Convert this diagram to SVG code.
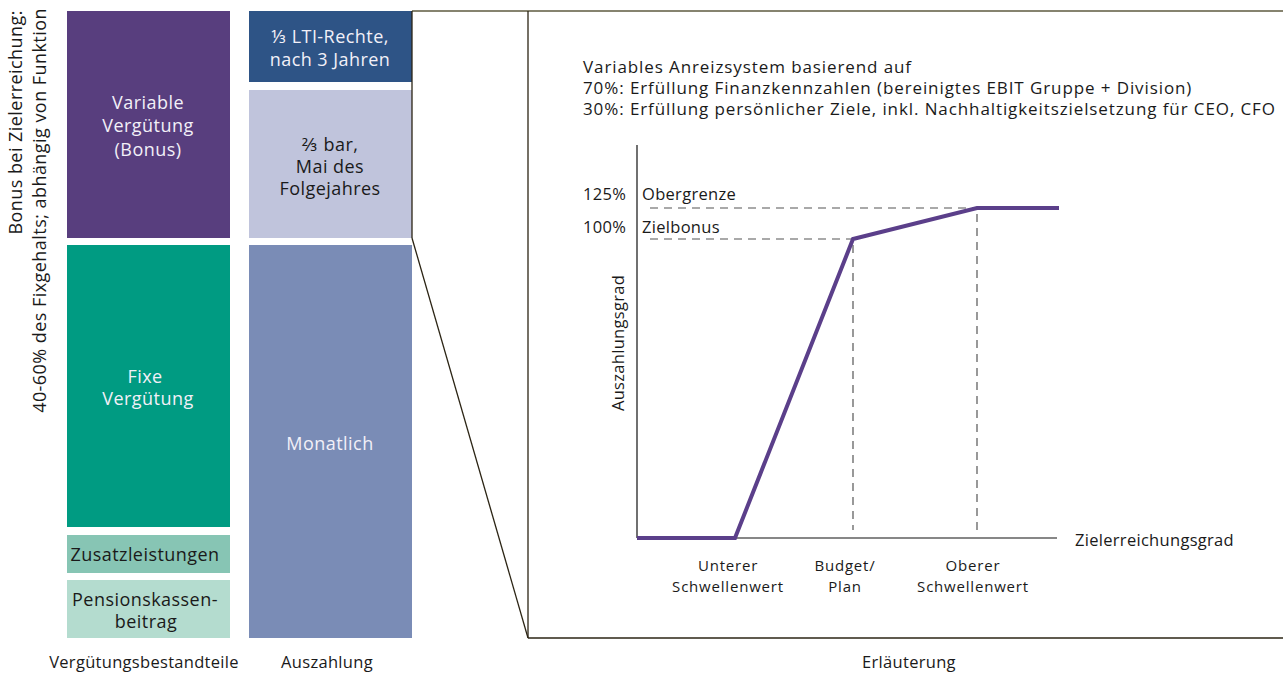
<svg xmlns="http://www.w3.org/2000/svg" width="1283" height="673" viewBox="0 0 1283 673">
  <style>
    text { font-family: "Open Sans", "Noto Sans", "Liberation Sans", sans-serif; font-size: 18px; letter-spacing: 0.45px; fill: #1a1a1a; }
    .c { text-anchor: middle; }
    .w { fill: #f2f0f8; }
    .head { font-size: 17px; letter-spacing: 0.9px; }
    .lbl { font-size: 16.5px; letter-spacing: 0.3px; }
    .tick { font-size: 15px; letter-spacing: 0.8px; text-anchor: middle; }
    .frame { stroke: #2b2414; stroke-width: 1.3; fill: none; }
    .axis { stroke: #111; stroke-width: 1.2; fill: none; }
    .dash { stroke: #555; stroke-width: 1.2; stroke-dasharray: 8 6; fill: none; }
    .curve { stroke: #5b3f8a; stroke-width: 4; fill: none; stroke-linejoin: miter; }
  </style>

  <!-- left side caption -->
  <g id="side-caption">
    <text transform="translate(22,10) rotate(-90)" text-anchor="end" font-size="18.5" letter-spacing="0.3">Bonus bei Zielerreichung:</text>
    <text transform="translate(46,8) rotate(-90)" text-anchor="end" font-size="18.5" letter-spacing="0.7">40-60% des Fixgehalts; abhängig von Funktion</text>
  </g>

  <!-- components column -->
  <g id="variable">
    <rect x="67" y="11" width="163" height="227" fill="#583e7e"/>
    <text class="c w" x="148" y="109">Variable</text>
    <text class="c w" x="148" y="132">Vergütung</text>
    <text class="c w" x="148" y="156">(Bonus)</text>
  </g>
  <g id="fixe">
    <rect x="67" y="245" width="163" height="282" fill="#009b82"/>
    <text class="c w" x="145" y="383">Fixe</text>
    <text class="c w" x="148" y="405">Vergütung</text>
  </g>
  <g id="zusatz">
    <rect x="67" y="535" width="163" height="38" fill="#87c5b4"/>
    <text class="c" x="145" y="561">Zusatzleistungen</text>
  </g>
  <g id="pension">
    <rect x="67" y="580" width="163" height="58" fill="#b4dccf"/>
    <text class="c" x="145" y="606">Pensionskassen-</text>
    <text class="c" x="146" y="628">beitrag</text>
  </g>

  <!-- payout column -->
  <g id="lti">
    <rect x="249" y="11" width="163" height="71" fill="#2e5486"/>
    <text class="c w" x="330" y="43">⅓ LTI-Rechte,</text>
    <text class="c w" x="330" y="66">nach 3 Jahren</text>
  </g>
  <g id="bar">
    <rect x="249" y="90" width="163" height="148" fill="#c0c4dc"/>
    <text class="c" x="330" y="151">⅔ bar,</text>
    <text class="c" x="330" y="173">Mai des</text>
    <text class="c" x="330" y="195">Folgejahres</text>
  </g>
  <g id="monatlich">
    <rect x="249" y="245" width="163" height="393" fill="#7a8cb6"/>
    <text class="c w" x="330" y="450" font-size="19.5">Monatlich</text>
  </g>

  <!-- callout frame linking the bonus to its explanation -->
  <g id="connectors">
    <line x1="412" y1="11" x2="1283" y2="11" stroke="#86836f" stroke-width="2"/>
    <line class="frame" x1="412" y1="11" x2="412" y2="238"/>
    <line class="frame" x1="412" y1="238" x2="528" y2="638"/>
    <line class="frame" x1="528" y1="11" x2="528" y2="638"/>
    <line class="frame" x1="528" y1="638" x2="1283" y2="638"/>
  </g>

  <!-- explanation -->
  <g id="explanation">
    <text class="head" x="583" y="73">Variables Anreizsystem basierend auf</text>
    <text class="head" x="583" y="94">70%: Erfüllung Finanzkennzahlen (bereinigtes EBIT Gruppe + Division)</text>
    <text class="head" x="583" y="115">30%: Erfüllung persönlicher Ziele, inkl. Nachhaltigkeitszielsetzung für CEO, CFO</text>
  </g>

  <g id="chart">
    <line class="dash" x1="650" y1="208" x2="977" y2="208"/>
    <line class="dash" x1="650" y1="239" x2="853" y2="239"/>
    <line class="dash" x1="853" y1="245" x2="853" y2="530"/>
    <line class="dash" x1="977" y1="214" x2="977" y2="530"/>
    <line class="axis" x1="637" y1="145" x2="637" y2="538"/>
    <line class="axis" x1="637" y1="538" x2="1057" y2="538"/>
    <polyline class="curve" points="637,538 735,538 853,239 977,208 1059,208"/>
    <text class="lbl" x="583" y="200">125%</text>
    <text class="lbl" x="642" y="200">Obergrenze</text>
    <text class="lbl" x="583" y="233">100%</text>
    <text class="lbl" x="642" y="233">Zielbonus</text>
    <text class="lbl c" transform="translate(624,343) rotate(-90)">Auszahlungsgrad</text>
    <text class="lbl" x="1075" y="546">Zielerreichungsgrad</text>
    <text class="tick" x="728" y="571">Unterer</text>
    <text class="tick" x="728" y="592">Schwellenwert</text>
    <text class="tick" x="845" y="571">Budget/</text>
    <text class="tick" x="845" y="592">Plan</text>
    <text class="tick" x="973" y="571">Oberer</text>
    <text class="tick" x="973" y="592">Schwellenwert</text>
  </g>

  <!-- column captions -->
  <g id="captions">
    <text class="lbl c" x="144" y="668">Vergütungsbestandteile</text>
    <text class="lbl c" x="327" y="668">Auszahlung</text>
    <text class="lbl c" x="909" y="668">Erläuterung</text>
  </g>
</svg>
